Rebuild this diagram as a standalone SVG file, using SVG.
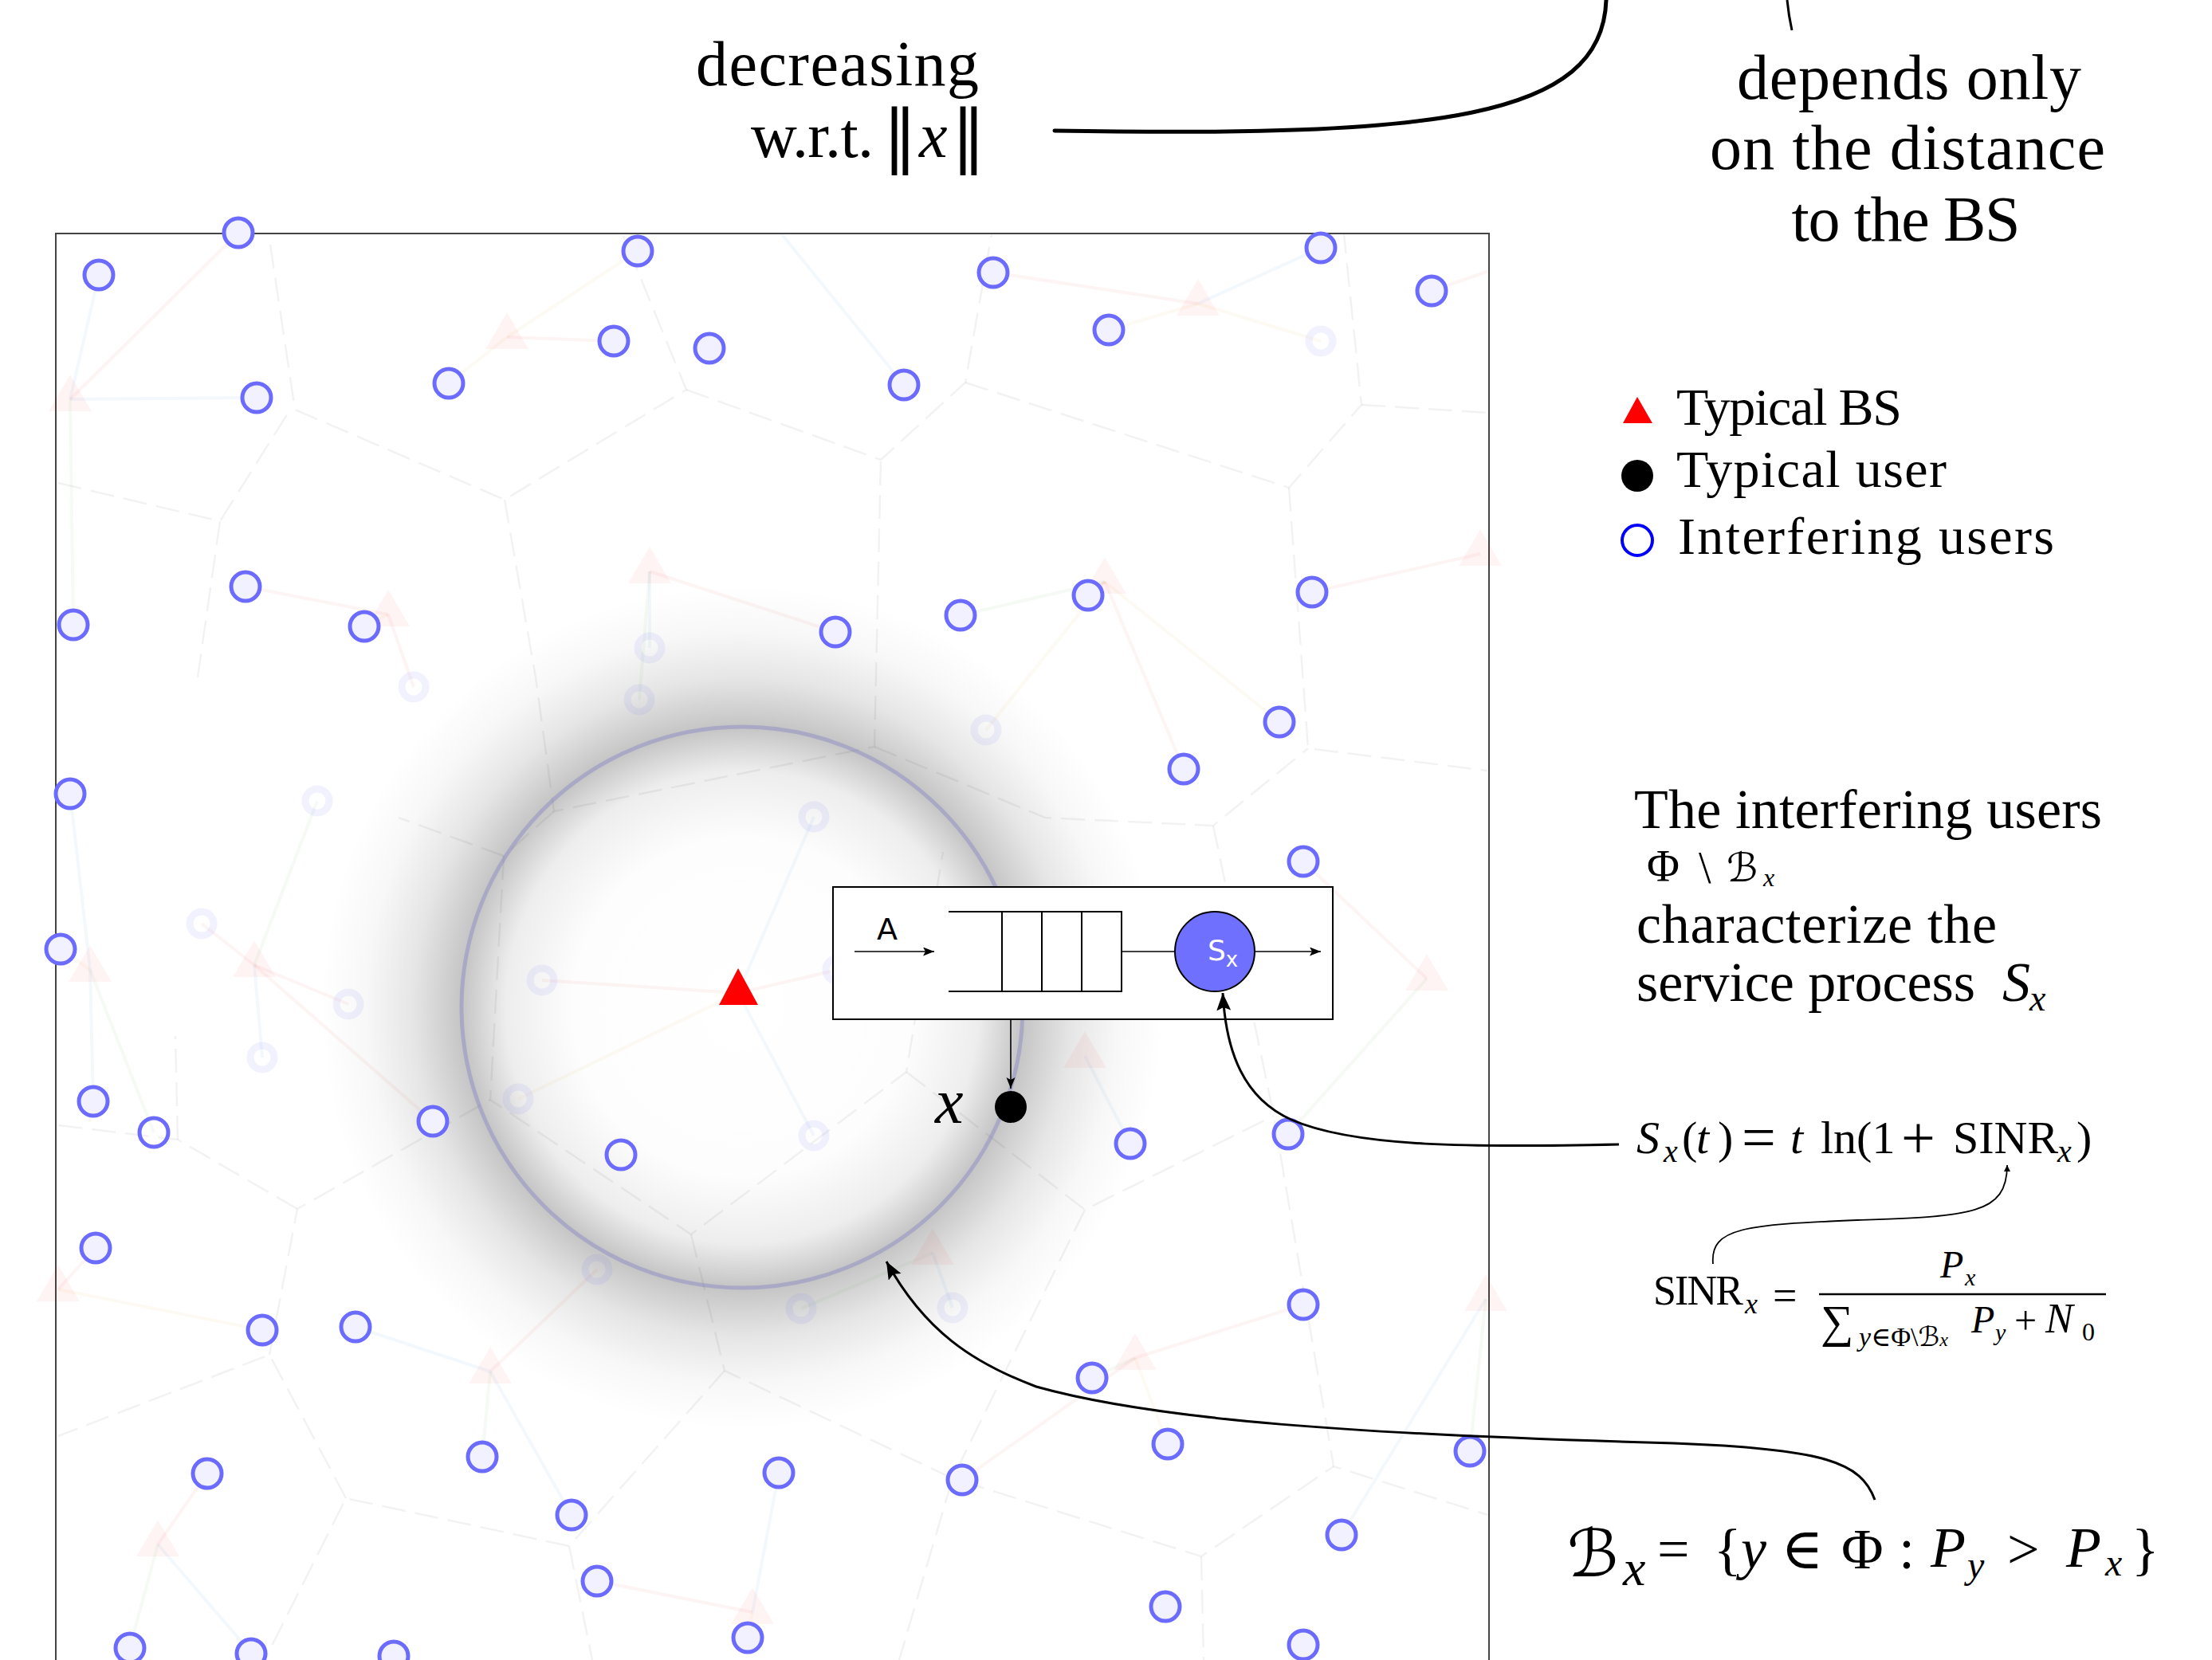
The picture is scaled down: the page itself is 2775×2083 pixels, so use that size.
<svg xmlns="http://www.w3.org/2000/svg" width="2775" height="2083" viewBox="0 0 2775 2083">
<style>
.serif{font-family:'Liberation Serif','DejaVu Serif',serif;fill:#000}
.it{font-style:italic}
.sans{font-family:'DejaVu Sans','Liberation Sans',sans-serif}
.cal{font-family:'DejaVu Serif','DejaVu Sans',serif;font-style:italic}
.iu{fill:#f1f1ff;stroke:#6b6bff;stroke-width:5}
.iw{fill:none;stroke:#6b6bff;stroke-width:5}
.fu{fill:none;stroke:#6b6bff;stroke-opacity:0.09;stroke-width:9}
.fb{fill:#ff0000;fill-opacity:0.045}
.vo{stroke:#000;stroke-opacity:0.05;stroke-width:2.5;stroke-dasharray:30 12;fill:none}
.ln line{stroke-width:4;stroke-opacity:0.06}
.cr{stroke:#e04040}.cb{stroke:#3a90e0}.cy{stroke:#e0b030}.cg{stroke:#50b050}
.conn{fill:none;stroke:#000}
</style>
<defs>
<radialGradient id="halo" gradientUnits="userSpaceOnUse" cx="931" cy="1264" r="530">
<stop offset="0" stop-color="#000" stop-opacity="0"/>
<stop offset="0.4" stop-color="#000" stop-opacity="0.008"/>
<stop offset="0.56" stop-color="#000" stop-opacity="0.07"/>
<stop offset="0.664" stop-color="#000" stop-opacity="0.23"/>
<stop offset="0.69" stop-color="#000" stop-opacity="0.2"/>
<stop offset="0.78" stop-color="#000" stop-opacity="0.1"/>
<stop offset="0.89" stop-color="#000" stop-opacity="0.03"/>
<stop offset="1" stop-color="#000" stop-opacity="0"/>
</radialGradient>
<marker id="ah" markerWidth="24" markerHeight="20" refX="22" refY="9" orient="auto" markerUnits="userSpaceOnUse"><path d="M0,0 L22,9 L0,18 L4,9 z" fill="#000"/></marker>
<marker id="ahs" markerWidth="16" markerHeight="12" refX="14" refY="5.5" orient="auto" markerUnits="userSpaceOnUse"><path d="M0,0 L14,5.5 L0,11 L3,5.5 z" fill="#000"/></marker>
<marker id="aht" markerWidth="10" markerHeight="10" refX="8" refY="4" orient="auto" markerUnits="userSpaceOnUse"><path d="M0,0 L8,4 L0,8 z" fill="#000"/></marker>
</defs>
<rect width="2775" height="2083" fill="#fff"/>

<g id="field">
<rect x="70" y="293" width="1798" height="1820" fill="#fff" stroke="#444" stroke-width="2"/>
<circle cx="931" cy="1264" r="530" fill="url(#halo)"/>
<g id="voronoi" class="vo">
<polyline points="339,307 370,514 633,627 861,489 782,296"/>
<polyline points="861,489 1105,577 1211,480 1244,294"/>
<polyline points="73,606 276,654 364,514"/>
<polyline points="276,654 248,850"/>
<polyline points="633,627 672,850 695,1018 1097,937 1105,577"/>
<polyline points="1211,480 1617,612 1708,508 1686,294"/>
<polyline points="1708,508 1868,518"/>
<polyline points="1617,612 1641,939 1866,967"/>
<polyline points="1097,937 1311,1026 1522,1036 1641,939"/>
<polyline points="1522,1036 1598,1400 1673,1840 1867,1901"/>
<polyline points="695,1018 632,1074 500,1026"/>
<polyline points="632,1074 615,1380 867,1549 1137,1345 1183,1069"/>
<polyline points="1137,1345 1361,1518 1598,1400"/>
<polyline points="1361,1518 1195,1855 1128,2083"/>
<polyline points="867,1549 909,1720 1195,1855 1507,1953 1673,1840"/>
<polyline points="1507,1953 1510,2083"/>
<polyline points="909,1720 714,1940 434,1880 332,2083"/>
<polyline points="714,1940 743,2083"/>
<polyline points="434,1880 338,1700 73,1802"/>
<polyline points="338,1700 373,1517 615,1380"/>
<polyline points="373,1517 223,1430 73,1412"/>
<polyline points="223,1430 220,1300"/>
</g>
<g id="links" class="ln">
<line class="cb" x1="124" y1="345" x2="88" y2="501"/>
<line class="cr" x1="299" y1="292" x2="88" y2="501"/>
<line class="cy" x1="800" y1="315" x2="636" y2="423"/>
<line class="cr" x1="1246" y1="342" x2="1503" y2="381"/>
<line class="cb" x1="1657" y1="311" x2="1503" y2="381"/>
<line class="cr" x1="1796" y1="365" x2="1868" y2="340"/>
<line class="cy" x1="1391" y1="414" x2="1503" y2="381"/>
<line class="cr" x1="770" y1="428" x2="636" y2="423"/>
<line class="cb" x1="322" y1="499" x2="88" y2="501"/>
<line class="cy" x1="563" y1="481" x2="636" y2="423"/>
<line class="cb" x1="1134" y1="483" x2="980" y2="293"/>
<line class="cr" x1="308" y1="736" x2="487" y2="771"/>
<line class="cg" x1="92" y1="784" x2="88" y2="501"/>
<line class="cy" x1="457" y1="786" x2="487" y2="771"/>
<line class="cr" x1="1048" y1="793" x2="815" y2="717"/>
<line class="cg" x1="1205" y1="772" x2="1386" y2="730"/>
<line class="cr" x1="1365" y1="747" x2="1386" y2="730"/>
<line class="cr" x1="1646" y1="743" x2="1857" y2="695"/>
<line class="cy" x1="1605" y1="906" x2="1386" y2="730"/>
<line class="cr" x1="1485" y1="965" x2="1386" y2="730"/>
<line class="cb" x1="88" y1="996" x2="113" y2="1217"/>
<line class="cr" x1="1635" y1="1081" x2="1790" y2="1228"/>
<line class="cy" x1="76" y1="1191" x2="113" y2="1217"/>
<line class="cb" x1="117" y1="1382" x2="113" y2="1217"/>
<line class="cg" x1="193" y1="1421" x2="113" y2="1217"/>
<line class="cr" x1="543" y1="1407" x2="319" y2="1211"/>
<line class="cb" x1="1418" y1="1435" x2="1361" y2="1325"/>
<line class="cg" x1="1616" y1="1423" x2="1790" y2="1228"/>
<line class="cr" x1="120" y1="1566" x2="73" y2="1618"/>
<line class="cy" x1="329" y1="1669" x2="73" y2="1618"/>
<line class="cb" x1="446" y1="1665" x2="615" y2="1721"/>
<line class="cr" x1="1635" y1="1637" x2="1424" y2="1704"/>
<line class="cg" x1="1370" y1="1729" x2="1424" y2="1704"/>
<line class="cy" x1="1465" y1="1812" x2="1424" y2="1704"/>
<line class="cg" x1="1844" y1="1821" x2="1864" y2="1630"/>
<line class="cr" x1="260" y1="1849" x2="198" y2="1938"/>
<line class="cg" x1="605" y1="1828" x2="615" y2="1721"/>
<line class="cb" x1="977" y1="1848" x2="944" y2="2023"/>
<line class="cr" x1="1207" y1="1857" x2="1424" y2="1704"/>
<line class="cb" x1="717" y1="1901" x2="615" y2="1721"/>
<line class="cr" x1="749" y1="1984" x2="944" y2="2023"/>
<line class="cb" x1="1683" y1="1926" x2="1864" y2="1630"/>
<line class="cg" x1="163" y1="2067" x2="198" y2="1938"/>
<line class="cb" x1="315" y1="2074" x2="198" y2="1938"/>
<line class="cy" x1="938" y1="2055" x2="944" y2="2023"/>
<line class="cy" x1="1657" y1="428" x2="1503" y2="381"/>
<line class="cb" x1="815" y1="813" x2="815" y2="717"/>
<line class="cr" x1="519" y1="862" x2="487" y2="771"/>
<line class="cg" x1="802" y1="878" x2="815" y2="717"/>
<line class="cy" x1="1237" y1="916" x2="1386" y2="730"/>
<line class="cg" x1="398" y1="1005" x2="319" y2="1211"/>
<line class="cb" x1="1021" y1="1025" x2="926" y2="1246"/>
<line class="cr" x1="253" y1="1159" x2="319" y2="1211"/>
<line class="cr" x1="437" y1="1260" x2="319" y2="1211"/>
<line class="cb" x1="329" y1="1327" x2="319" y2="1211"/>
<line class="cr" x1="680" y1="1230" x2="926" y2="1246"/>
<line class="cy" x1="650" y1="1379" x2="926" y2="1246"/>
<line class="cb" x1="1021" y1="1425" x2="926" y2="1246"/>
<line class="cr" x1="749" y1="1593" x2="615" y2="1721"/>
<line class="cg" x1="1005" y1="1642" x2="1170" y2="1572"/>
<line class="cb" x1="1195" y1="1641" x2="1170" y2="1572"/>
<line class="cr" x1="1051" y1="1217" x2="926" y2="1246"/>
</g>
<g id="faint-bs" class="fb">
<polygon points="636,392 609,438 663,438"/>
<polygon points="1503,350 1476,396 1530,396"/>
<polygon points="88,470 61,516 115,516"/>
<polygon points="815,686 788,732 842,732"/>
<polygon points="487,740 460,786 514,786"/>
<polygon points="1386,699 1359,745 1413,745"/>
<polygon points="1857,664 1830,710 1884,710"/>
<polygon points="1790,1197 1763,1243 1817,1243"/>
<polygon points="1361,1294 1334,1340 1388,1340"/>
<polygon points="1170,1541 1143,1587 1197,1587"/>
<polygon points="319,1180 292,1226 346,1226"/>
<polygon points="113,1186 86,1232 140,1232"/>
<polygon points="73,1587 46,1633 100,1633"/>
<polygon points="198,1907 171,1953 225,1953"/>
<polygon points="615,1690 588,1736 642,1736"/>
<polygon points="944,1992 917,2038 971,2038"/>
<polygon points="1424,1673 1397,1719 1451,1719"/>
<polygon points="1864,1599 1837,1645 1891,1645"/>
</g>
<g id="faint-users" class="fu">
<circle cx="1657" cy="428" r="15"/><circle cx="815" cy="813" r="15"/>
<circle cx="519" cy="862" r="15"/><circle cx="802" cy="878" r="15"/>
<circle cx="1237" cy="916" r="15"/><circle cx="398" cy="1005" r="15"/>
<circle cx="1021" cy="1025" r="15"/><circle cx="253" cy="1159" r="15"/>
<circle cx="437" cy="1260" r="15"/><circle cx="329" cy="1327" r="15"/>
<circle cx="680" cy="1230" r="15"/><circle cx="650" cy="1379" r="15"/>
<circle cx="1021" cy="1425" r="15"/><circle cx="749" cy="1593" r="15"/>
<circle cx="1005" cy="1642" r="15"/><circle cx="1195" cy="1641" r="15"/>
<circle cx="1051" cy="1217" r="15"/>
</g>
<circle id="disc-Bx" cx="931" cy="1264" r="352" fill="none" stroke="#8888c8" stroke-opacity="0.45" stroke-width="5"/>
</g>

<g id="interfering-users">
<g id="u1"><circle class="iu" cx="124" cy="345" r="18"/></g>
<g id="u2"><circle class="iu" cx="299" cy="292" r="18"/></g>
<g id="u3"><circle class="iu" cx="800" cy="315" r="18"/></g>
<g id="u4"><circle class="iu" cx="1246" cy="342" r="18"/></g>
<g id="u5"><circle class="iu" cx="1657" cy="311" r="18"/></g>
<g id="u6"><circle class="iu" cx="1796" cy="365" r="18"/></g>
<g id="u7"><circle class="iu" cx="1391" cy="414" r="18"/></g>
<g id="u8"><circle class="iu" cx="770" cy="428" r="18"/></g>
<g id="u9"><circle class="iu" cx="890" cy="437" r="18"/></g>
<g id="u10"><circle class="iu" cx="322" cy="499" r="18"/></g>
<g id="u11"><circle class="iu" cx="563" cy="481" r="18"/></g>
<g id="u12"><circle class="iu" cx="1134" cy="483" r="18"/></g>
<g id="u13"><circle class="iu" cx="308" cy="736" r="18"/></g>
<g id="u14"><circle class="iu" cx="92" cy="784" r="18"/></g>
<g id="u15"><circle class="iu" cx="457" cy="786" r="18"/></g>
<g id="u16"><circle class="iu" cx="1048" cy="793" r="18"/></g>
<g id="u17"><circle class="iu" cx="1205" cy="772" r="18"/></g>
<g id="u18"><circle class="iu" cx="1365" cy="747" r="18"/></g>
<g id="u19"><circle class="iu" cx="1646" cy="743" r="18"/></g>
<g id="u20"><circle class="iu" cx="1605" cy="906" r="18"/></g>
<g id="u21"><circle class="iu" cx="1485" cy="965" r="18"/></g>
<g id="u22"><circle class="iu" cx="88" cy="996" r="18"/></g>
<g id="u23"><circle class="iu" cx="1635" cy="1081" r="18"/></g>
<g id="u24"><circle class="iu" cx="76" cy="1191" r="18"/></g>
<g id="u25"><circle class="iu" cx="117" cy="1382" r="18"/></g>
<g id="u26"><circle class="iw" cx="193" cy="1421" r="18"/></g>
<g id="u27"><circle class="iu" cx="543" cy="1407" r="18"/></g>
<g id="u28"><circle class="iw" cx="779" cy="1449" r="18"/></g>
<g id="u29"><circle class="iu" cx="1418" cy="1435" r="18"/></g>
<g id="u30"><circle class="iu" cx="1616" cy="1423" r="18"/></g>
<g id="u31"><circle class="iu" cx="120" cy="1566" r="18"/></g>
<g id="u32"><circle class="iu" cx="329" cy="1669" r="18"/></g>
<g id="u33"><circle class="iu" cx="446" cy="1665" r="18"/></g>
<g id="u34"><circle class="iu" cx="1635" cy="1637" r="18"/></g>
<g id="u35"><circle class="iu" cx="1370" cy="1729" r="18"/></g>
<g id="u36"><circle class="iu" cx="1465" cy="1812" r="18"/></g>
<g id="u37"><circle class="iu" cx="1844" cy="1821" r="18"/></g>
<g id="u38"><circle class="iu" cx="260" cy="1849" r="18"/></g>
<g id="u39"><circle class="iu" cx="605" cy="1828" r="18"/></g>
<g id="u40"><circle class="iu" cx="977" cy="1848" r="18"/></g>
<g id="u41"><circle class="iu" cx="1207" cy="1857" r="18"/></g>
<g id="u42"><circle class="iu" cx="717" cy="1901" r="18"/></g>
<g id="u43"><circle class="iu" cx="749" cy="1984" r="18"/></g>
<g id="u44"><circle class="iu" cx="1683" cy="1926" r="18"/></g>
<g id="u45"><circle class="iu" cx="1462" cy="2016" r="18"/></g>
<g id="u46"><circle class="iu" cx="163" cy="2068" r="18"/></g>
<g id="u47"><circle class="iu" cx="315" cy="2075" r="18"/></g>
<g id="u48"><circle class="iu" cx="494" cy="2078" r="18"/></g>
<g id="u49"><circle class="iu" cx="938" cy="2055" r="18"/></g>
<g id="u50"><circle class="iu" cx="1635" cy="2064" r="18"/></g>
</g>

<g id="typical-bs"><polygon points="926,1215 902,1261 951,1261" fill="#ff0000"/></g>

<g id="queue">
<rect x="1045" y="1113" width="627" height="166" fill="#fff" stroke="#000" stroke-width="2"/>
<line x1="1072" y1="1194" x2="1172" y2="1194" stroke="#000" stroke-width="1.6" marker-end="url(#ahs)"/>
<text class="sans" x="1100" y="1179" font-size="38">A</text>
<path d="M1190,1144 H1407 V1244 H1190 M1257,1144 V1244 M1307,1144 V1244 M1357,1144 V1244" fill="none" stroke="#000" stroke-width="2"/>
<line x1="1407" y1="1194" x2="1474" y2="1194" stroke="#000" stroke-width="1.6"/>
<circle cx="1524" cy="1194" r="50" fill="#7070ff" stroke="#000" stroke-width="2"/>
<text class="sans" x="1515" y="1205" font-size="36" fill="#fff">S<tspan font-size="26" dy="8">x</tspan></text>
<line x1="1574" y1="1194" x2="1657" y2="1194" stroke="#000" stroke-width="1.6" marker-end="url(#ahs)"/>
<line x1="1268" y1="1279" x2="1268" y2="1366" stroke="#000" stroke-width="1.6" marker-end="url(#ahs)"/>
</g>

<g id="typical-user">
<circle cx="1268" cy="1389" r="20" fill="#000"/>
<text class="serif it" x="1173" y="1409" font-size="80">x</text>
</g>

<g id="legend">
<polygon points="2054,498 2036,531 2073,531" fill="#ff0000"/>
<text class="serif" x="2103" y="533" font-size="66" textLength="283">Typical BS</text>
<circle cx="2054" cy="597" r="20" fill="#000"/>
<text class="serif" x="2103" y="611" font-size="66" textLength="339">Typical user</text>
<circle cx="2054" cy="678" r="19" fill="#fff" stroke="#0000ff" stroke-width="4"/>
<text class="serif" x="2105" y="695" font-size="66" textLength="472">Interfering users</text>
</g>

<g id="label-decreasing">
<text class="serif" x="873" y="107" font-size="80" textLength="355">decreasing</text>
<text class="serif" x="942" y="197" font-size="80"><tspan textLength="154">w.r.t.</tspan><tspan x="1129" y="200" font-size="86" text-anchor="middle" font-family="'DejaVu Serif',serif">‖</tspan><tspan x="1153" y="197" class="it">x</tspan><tspan x="1215" y="200" font-size="86" text-anchor="middle" font-family="'DejaVu Serif',serif">‖</tspan></text>
</g>

<g id="label-depends">
<text class="serif" x="2395" y="124" font-size="80" text-anchor="middle" textLength="432">depends only</text>
<text class="serif" x="2393" y="212" font-size="80" text-anchor="middle" textLength="496">on the distance</text>
<text class="serif" x="2391" y="302" font-size="80" text-anchor="middle" textLength="287">to the BS</text>
</g>

<g id="label-interfering">
<text class="serif" x="2050" y="1039" font-size="70" textLength="587">The interfering users</text>
<text class="serif" x="2066" y="1106" font-size="56">Φ<tspan x="2131" y="1108" font-size="56">\</tspan><tspan x="2166" y="1106" class="cal" font-size="50">ℬ</tspan><tspan x="2212" y="1112" class="it" font-size="32">x</tspan></text>
<text class="serif" x="2053" y="1183" font-size="70" textLength="452">characterize the</text>
<text class="serif" x="2053" y="1256" font-size="70"><tspan textLength="425">service process</tspan><tspan x="2512" class="it">S</tspan><tspan x="2546" y="1268" class="it" font-size="46">x</tspan></text>
</g>

<g id="formula-Sx" class="serif" font-size="58">
<text x="2053" y="1447"><tspan class="it">S</tspan><tspan x="2087" y="1458" class="it" font-size="40">x</tspan><tspan x="2110" y="1447">(</tspan><tspan x="2128" class="it">t</tspan><tspan x="2155">)</tspan><tspan x="2185" y="1453" font-size="76">=</tspan><tspan x="2246" y="1447" class="it">t</tspan><tspan x="2284">ln(1</tspan><tspan x="2385" y="1453" font-size="76">+</tspan><tspan x="2450" y="1447">SINR</tspan><tspan x="2581" y="1458" class="it" font-size="40">x</tspan><tspan x="2605" y="1447">)</tspan></text>
</g>

<g id="formula-SINR" class="serif">
<text x="2074" y="1637" font-size="52"><tspan textLength="113">SINR</tspan><tspan x="2189" y="1648" font-size="36" class="it">x</tspan><tspan x="2224" y="1644" font-size="54">=</tspan></text>
<line x1="2282" y1="1624" x2="2642" y2="1624" stroke="#000" stroke-width="2.5"/>
<text x="2434" y="1603" font-size="48" class="it">P<tspan x="2465" y="1613" font-size="30">x</tspan></text>
<text x="2284" y="1678" font-size="58">∑<tspan x="2332" y="1689" font-size="34" class="it">y</tspan><tspan font-size="34">∈Φ\</tspan><tspan class="cal" font-size="34">ℬ</tspan><tspan class="it" font-size="24">x</tspan><tspan x="2473" y="1672" font-size="48" class="it">P</tspan><tspan x="2503" y="1682" font-size="30" class="it">y</tspan><tspan x="2527" y="1674" font-size="50">+</tspan><tspan x="2566" y="1672" font-size="52" class="it">N</tspan><tspan x="2612" y="1682" font-size="32">0</tspan></text>
</g>

<g id="formula-Bx" class="serif">
<text x="1966" y="1978" font-size="72"><tspan class="cal" font-size="82">ℬ</tspan><tspan x="2036" y="1989" font-size="64" class="it">x</tspan><tspan x="2079" y="1968">=</tspan><tspan x="2150">{</tspan><tspan x="2184" class="it">y</tspan><tspan x="2234">∈</tspan><tspan x="2310">Φ</tspan><tspan x="2382">:</tspan><tspan x="2422" y="1966" class="it">P</tspan><tspan x="2468" y="1980" font-size="48" class="it">y</tspan><tspan x="2518" y="1968">&gt;</tspan><tspan x="2592" y="1966" class="it">P</tspan><tspan x="2641" y="1977" font-size="48" class="it">x</tspan><tspan x="2674" y="1968">}</tspan></text>
</g>

<g id="connectors">
<path class="conn" stroke-width="5" stroke-linecap="round" d="M1323,164 C1800,172 2010,150 2015,0"/>
<path class="conn" stroke-width="3" d="M2242,0 Q2244,20 2248,38"/>
<path class="conn" stroke-width="3" marker-end="url(#ah)" d="M2031,1436 C1850,1440 1700,1440 1620,1405 C1560,1378 1538,1320 1534,1246"/>
<path class="conn" stroke-width="3" marker-end="url(#ah)" d="M2352,1882 C2335,1835 2290,1818 2100,1811 C1700,1800 1450,1782 1300,1740 C1220,1710 1160,1670 1112,1583"/>
<path class="conn" stroke-width="1.8" marker-end="url(#aht)" d="M2149,1586 C2145,1540 2190,1537 2330,1531 C2470,1526 2518,1525 2518,1462"/>
</g>
</svg>
